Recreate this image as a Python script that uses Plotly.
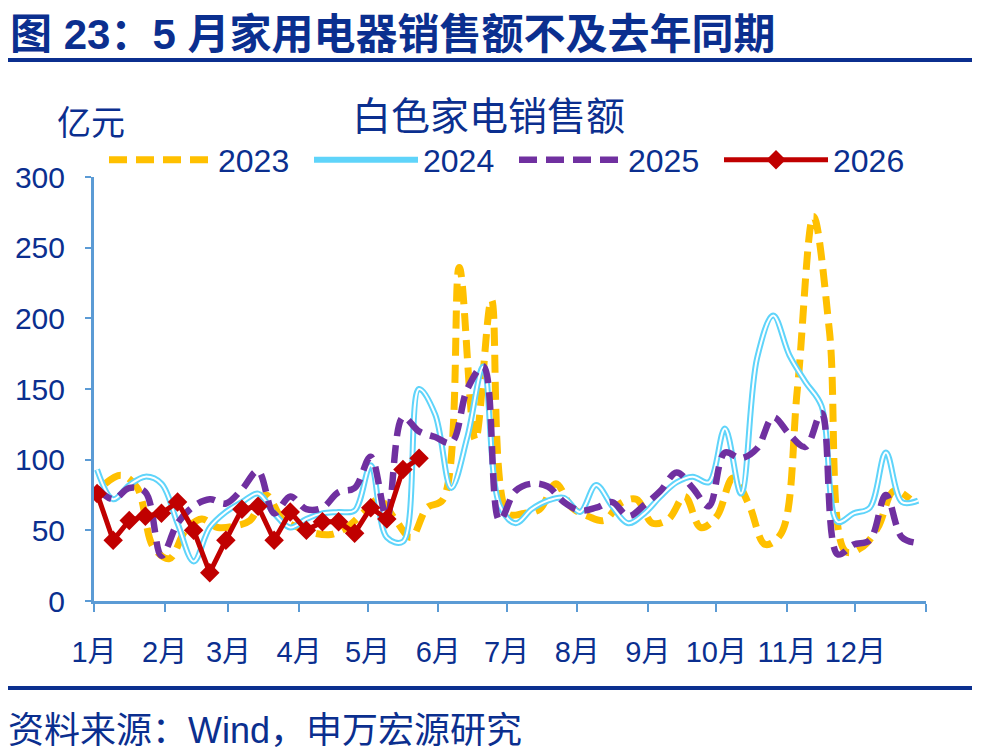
import plotly.graph_objects as go

# ---------------- data ----------------
month_labels = ["1月", "2月", "3月", "4月", "5月", "6月", "7月", "8月", "9月", "10月", "11月", "12月"]
month_start_days = [0, 31, 59, 90, 120, 151, 181, 212, 243, 273, 304, 334, 365]

weeks_2023 = list(range(51))
sales_2023 = [83, 89, 80, 38, 30, 50, 58, 52, 53, 57, 75, 58, 52, 48, 47, 52, 62, 72, 58, 45,
              66, 72, 236, 114, 213, 62, 62, 65, 83, 66, 60, 57, 69, 72, 55, 58, 74, 52, 60, 87,
              68, 40, 48, 150, 272, 190, 35, 38, 52, 78, 72]

weeks_2024 = list(range(52))
sales_2024 = [93, 72, 82, 88, 83, 55, 28, 52, 63, 70, 76, 62, 52, 58, 62, 63, 64, 96, 45, 42,
              150, 132, 80, 116, 166, 68, 55, 65, 71, 73, 63, 82, 67, 55, 62, 74, 84, 88, 84, 122,
              76, 172, 202, 174, 155, 138, 56, 62, 66, 105, 70, 71]

weeks_2025 = list(range(52))
sales_2025 = [80, 72, 80, 77, 32, 55, 67, 72, 69, 79, 92, 62, 74, 65, 66, 77, 80, 102, 59, 130,
              120, 116, 112, 150, 166, 57, 78, 83, 81, 70, 64, 66, 70, 60, 68, 78, 91, 80, 67, 105,
              101, 108, 130, 118, 109, 133, 33, 40, 43, 75, 45, 41]

weeks_2026 = list(range(21))
sales_2026 = [76, 43, 57, 60, 62, 70, 50, 20, 43, 65, 67, 43, 63, 50, 56, 56, 48, 66, 58, 93, 101]

y_ticks = [0, 50, 100, 150, 200, 250, 300]

# ---------------- style ----------------
NAVY = "#0b2f8f"
AXIS = "#5b9bd5"
FONT = "Liberation Sans, Arial, Noto Sans CJK SC, sans-serif"
W, H = 981, 753
L, R, T, B = 94, 55, 177, 152
PW, PH = W - L - R, H - T - B
X0, XSPAN = -0.19, 51.68          # week-axis range
OFFSET_2023 = 0.5                 # 2023 weeks sit half a week later


def px_x(px):
    return (px - L) / PW


def px_y(py):
    return (H - B - py) / PH


tickvals = [X0 + d * XSPAN / 365 for d in month_start_days]
ticktext = month_labels + [""]

fig = go.Figure()
fig.add_trace(go.Scatter(
    x=[w + OFFSET_2023 for w in weeks_2023], y=sales_2023, name="2023", mode="lines",
    line=dict(color="#ffc000", width=7, dash="18px,9px", shape="spline", smoothing=1)))
fig.add_trace(go.Scatter(
    x=weeks_2024, y=sales_2024, name="2024", mode="lines", legendgroup="2024",
    line=dict(color="#5fd4fa", width=6, shape="spline", smoothing=1)))
fig.add_trace(go.Scatter(
    x=weeks_2024, y=sales_2024, name="2024", mode="lines", legendgroup="2024",
    showlegend=False, hoverinfo="skip",
    line=dict(color="white", width=2, shape="spline", smoothing=1)))
fig.add_trace(go.Scatter(
    x=weeks_2025, y=sales_2025, name="2025", mode="lines",
    line=dict(color="#7030a0", width=6.5, dash="18px,9px", shape="spline", smoothing=1)))
fig.add_trace(go.Scatter(
    x=weeks_2026, y=sales_2026, name="2026", mode="lines+markers",
    line=dict(color="#c00000", width=5),
    marker=dict(symbol="diamond", size=15, color="#c00000")))

fig.update_layout(
    width=W, height=H, margin=dict(l=L, r=R, t=T, b=B),
    paper_bgcolor="white", plot_bgcolor="white",
    font=dict(family=FONT, color=NAVY, size=28),
    showlegend=True,
    legend=dict(orientation="h", x=px_x(104), y=px_y(160), xanchor="left", yanchor="middle",
                font=dict(size=32, color=NAVY), itemwidth=104, entrywidth=86,
                entrywidthmode="pixels", bgcolor="rgba(0,0,0,0)", tracegroupgap=0),
    xaxis=dict(range=[X0, X0 + XSPAN], tickmode="array", tickvals=tickvals, ticktext=ticktext,
               showline=True, linecolor=AXIS, linewidth=3, ticks="outside", ticklen=8,
               tickcolor=AXIS, tickwidth=2, showgrid=False, zeroline=False,
               tickfont=dict(size=29, color=NAVY), ticklabelstandoff=15),
    yaxis=dict(range=[0, 300], tickmode="array", tickvals=y_ticks,
               showline=True, linecolor=AXIS, linewidth=3, ticks="outside", ticklen=6,
               tickcolor=AXIS, tickwidth=2, showgrid=False, zeroline=False,
               tickfont=dict(size=30, color=NAVY), ticklabelstandoff=14),
)

annotations = [
    dict(text="<b>图 23：5 月家用电器销售额不及去年同期</b>", x=px_x(8), y=px_y(34),
         xanchor="left", yanchor="middle", font=dict(size=42, color=NAVY)),
    dict(text="白色家电销售额", x=px_x(488), y=px_y(116), xanchor="center", yanchor="middle",
         font=dict(size=39, color=NAVY)),
    dict(text="亿元", x=px_x(55), y=px_y(123), xanchor="left", yanchor="middle",
         font=dict(size=34, color=NAVY)),
    dict(text="资料来源：Wind，申万宏源研究", x=px_x(6), y=px_y(730), xanchor="left",
         yanchor="middle", font=dict(size=36, color=NAVY)),
]
for a in annotations:
    a.update(xref="paper", yref="paper", showarrow=False)
fig.update_layout(annotations=annotations)

fig.add_shape(type="line", xref="paper", yref="paper", x0=px_x(8), x1=px_x(972),
              y0=px_y(60), y1=px_y(60), line=dict(color=NAVY, width=4))
fig.add_shape(type="line", xref="paper", yref="paper", x0=px_x(8), x1=px_x(972),
              y0=px_y(688), y1=px_y(688), line=dict(color=NAVY, width=4))

fig.write_html("out.html")
